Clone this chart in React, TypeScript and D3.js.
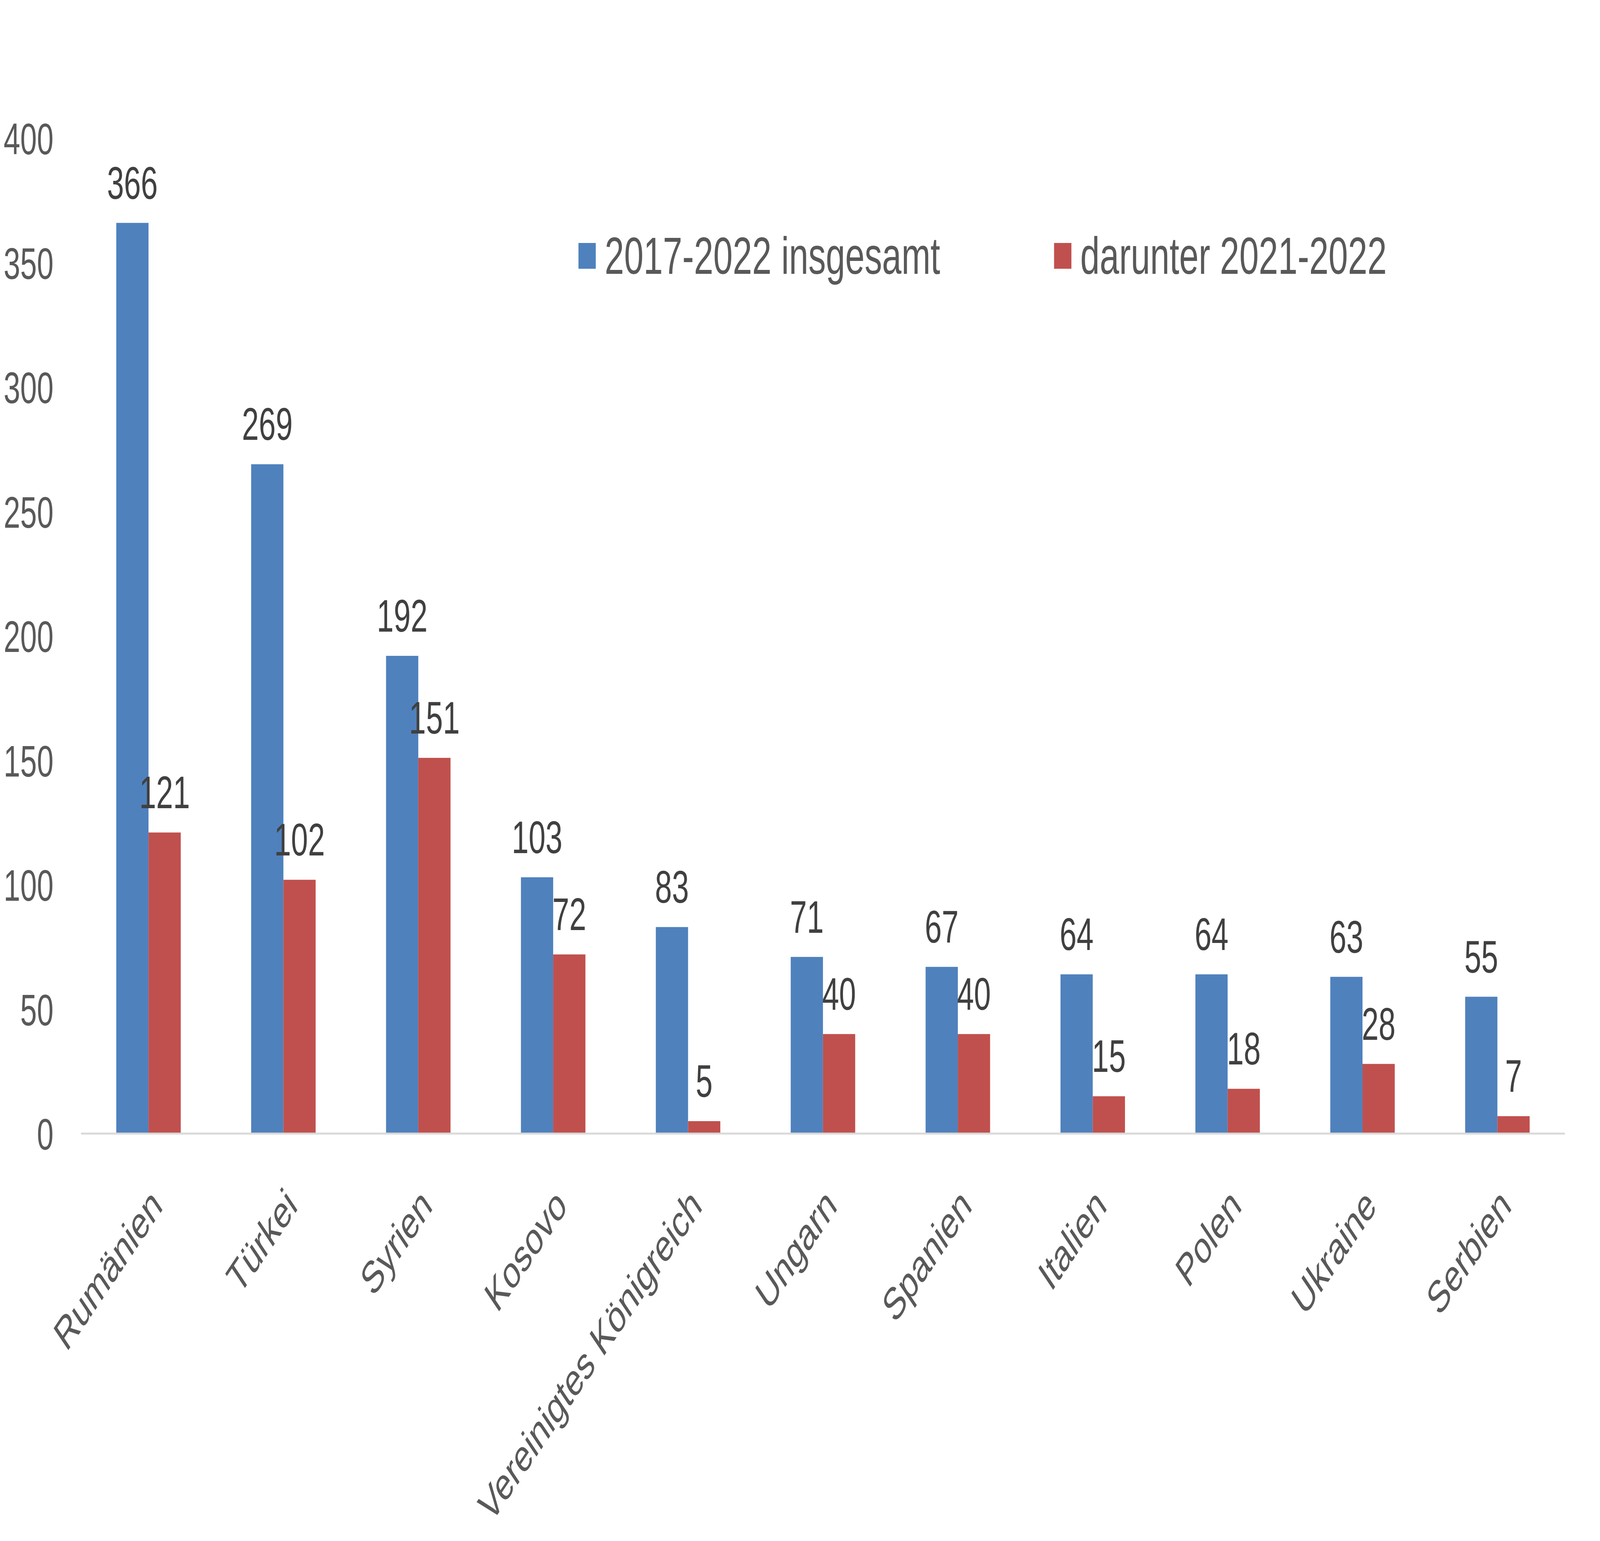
import React, { useEffect, useRef } from "react";
import * as d3 from "d3";

const categories = [
  "Rumänien",
  "Türkei",
  "Syrien",
  "Kosovo",
  "Vereinigtes Königreich",
  "Ungarn",
  "Spanien",
  "Italien",
  "Polen",
  "Ukraine",
  "Serbien",
];
const seriesNames = ["2017-2022 insgesamt", "darunter 2021-2022"];
const totalValues = [366, 269, 192, 103, 83, 71, 67, 64, 64, 63, 55];
const recentValues = [121, 102, 151, 72, 5, 40, 40, 15, 18, 28, 7];
const yTicks = [0, 50, 100, 150, 200, 250, 300, 350, 400];

const App = () => {
  const ref = useRef<SVGSVGElement>(null);

  useEffect(() => {
    const width = 6099;
    const height = 3945;
    const font = "'Liberation Sans', Arial, sans-serif";
    const colors = ["#4F81BD", "#C0504D"];

    const svg = d3.select(ref.current);
    svg.selectAll("*").remove();
    // laid out in the reference's pixels, stretched to fill the window
    svg
      .attr("viewBox", `0 0 ${width} ${height}`)
      .attr("preserveAspectRatio", "none");

    // plot area
    const left = 309;
    const right = 5965;
    const bottom = 2902;
    const top = 354;

    const x = d3
      .scaleBand<string>()
      .domain(categories)
      .range([left, right])
      .paddingInner(0.522)
      .paddingOuter(0.261);

    const xSeries = d3
      .scaleBand<string>()
      .domain(seriesNames)
      .range([0, x.bandwidth()]);

    const y = d3.scaleLinear().domain([0, 400]).range([bottom, top]);

    const data = categories.map((c, i) => ({
      category: c,
      values: [totalValues[i], recentValues[i]],
    }));

    // y axis labels (no line, no gridlines)
    svg
      .append("g")
      .selectAll("text")
      .data(yTicks)
      .enter()
      .append("text")
      .attr("x", 204)
      .attr("y", (d) => y(d))
      .attr("dy", "0.36em")
      .attr("text-anchor", "end")
      .attr("font-family", font)
      .attr("font-size", 114)
      .attr("fill", "#595959")
      .text((d) => d);

    // bars
    const groups = svg
      .append("g")
      .selectAll("g.group")
      .data(data)
      .enter()
      .append("g")
      .attr("class", "group")
      .attr("transform", (d) => `translate(${x(d.category)},0)`);

    groups
      .selectAll("rect")
      .data((d) => d.values.map((v, j) => ({ v, s: seriesNames[j], j })))
      .enter()
      .append("rect")
      .attr("x", (d) => xSeries(d.s) as number)
      .attr("y", (d) => y(d.v))
      .attr("width", xSeries.bandwidth())
      .attr("height", (d) => bottom - y(d.v))
      .attr("fill", (d) => colors[d.j]);

    // data labels
    groups
      .selectAll("text")
      .data((d) => d.values.map((v, j) => ({ v, s: seriesNames[j] })))
      .enter()
      .append("text")
      .attr("x", (d) => (xSeries(d.s) as number) + xSeries.bandwidth() / 2)
      .attr("y", (d) => y(d.v) - 62)
      .attr("text-anchor", "middle")
      .attr("font-family", font)
      .attr("font-size", 116)
      .attr("fill", "#404040")
      .text((d) => d.v);

    // category axis line
    svg
      .append("line")
      .attr("x1", left)
      .attr("x2", right)
      .attr("y1", bottom)
      .attr("y2", bottom)
      .attr("stroke", "#D9D9D9")
      .attr("stroke-width", 5);

    // rotated category labels
    svg
      .append("g")
      .selectAll("text")
      .data(categories)
      .enter()
      .append("text")
      .attr("transform", (d) => {
        const cx = (x(d) as number) + x.bandwidth() / 2 + 30;
        return `translate(${cx},3064) rotate(-45)`;
      })
      .attr("dy", "0.35em")
      .attr("text-anchor", "end")
      .attr("font-family", font)
      .attr("font-size", 115)
      .attr("fill", "#595959")
      .text((d) => d);

    // legend
    const legendX = [2205, 4018];
    const legend = svg
      .append("g")
      .selectAll("g")
      .data(seriesNames)
      .enter()
      .append("g")
      .attr("transform", (d, i) => `translate(${legendX[i]},622)`);
    legend
      .append("rect")
      .attr("width", 66)
      .attr("height", 66)
      .attr("fill", (d, i) => colors[i]);
    legend
      .append("text")
      .attr("x", 100)
      .attr("y", 79)
      .attr("font-family", font)
      .attr("font-size", 133)
      .attr("fill", "#595959")
      .text((d) => d);
  }, []);

  return (
    <svg
      ref={ref}
      style={{
        position: "absolute",
        left: 0,
        top: 0,
        width: "100vw",
        height: "100vh",
        background: "#fff",
        display: "block",
      }}
    />
  );
};

export default App;
